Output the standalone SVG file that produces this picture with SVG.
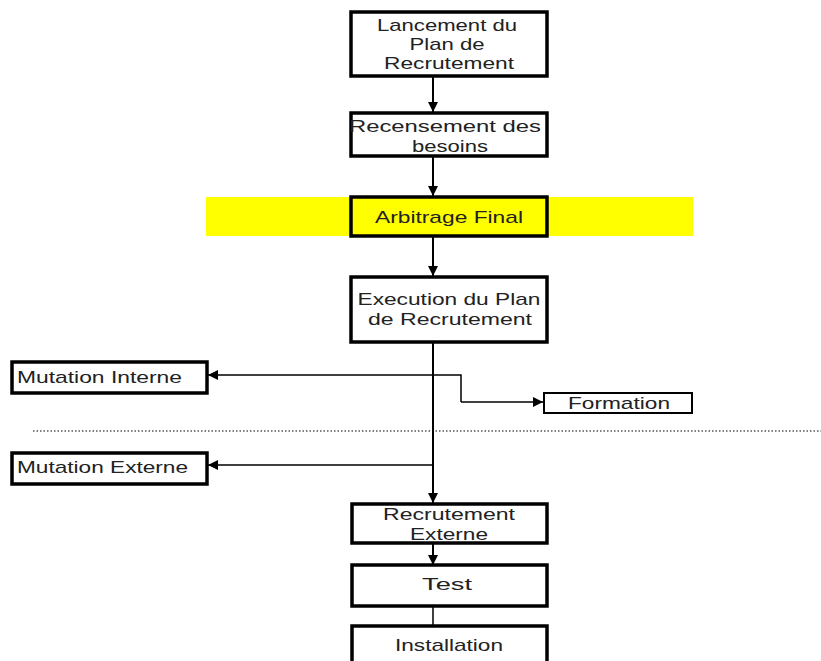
<svg xmlns="http://www.w3.org/2000/svg" width="821" height="661" viewBox="0 0 821 661">
<defs>
<marker id="ah" viewBox="0 0 10 10" refX="10" refY="5" markerWidth="10" markerHeight="10" markerUnits="userSpaceOnUse" orient="auto">
<path d="M0,0 L10,5 L0,10 z" fill="#000"/>
</marker>
</defs>
<style>
.box{fill:#fff;stroke:#000;stroke-width:3.5}
.thin{fill:#fff;stroke:#000;stroke-width:2}
text{font-family:"Liberation Sans",Arial,sans-serif;font-size:17px;fill:#222;text-anchor:middle}
.l{text-anchor:start}
.c{fill:none;stroke:#000;stroke-width:2}
.c1{fill:none;stroke:#000;stroke-width:1.5}
</style>
<rect x="0" y="0" width="821" height="661" fill="#fff"/>
<rect x="206" y="197" width="487" height="39" fill="#ffff00"/>
<line x1="33" y1="431" x2="821" y2="431" stroke="#555" stroke-width="1.5" stroke-dasharray="1.5 2"/>
<g id="connectors">
<line class="c" x1="433" y1="77" x2="433" y2="112" marker-end="url(#ah)"/>
<line class="c" x1="433" y1="157" x2="433" y2="196" marker-end="url(#ah)"/>
<line class="c" x1="433" y1="237" x2="433" y2="276" marker-end="url(#ah)"/>
<line class="c" x1="433" y1="342" x2="433" y2="503" marker-end="url(#ah)"/>
<polyline class="c1" points="461,402 461,375 208,375" marker-end="url(#ah)"/>
<line class="c1" x1="461" y1="402" x2="543" y2="402" marker-end="url(#ah)"/>
<line class="c1" x1="433" y1="465" x2="208" y2="465" marker-end="url(#ah)"/>
<line class="c" x1="433" y1="543" x2="433" y2="565" marker-end="url(#ah)"/>
<line class="c1" x1="433" y1="606" x2="433" y2="626"/>
</g>
<g id="lancement">
<rect class="box" x="351" y="12" width="196" height="64"/>
<text x="447" y="31" textLength="140" lengthAdjust="spacingAndGlyphs">Lancement du</text>
<text x="447" y="50" textLength="75" lengthAdjust="spacingAndGlyphs">Plan de</text>
<text x="449" y="69" textLength="130" lengthAdjust="spacingAndGlyphs">Recrutement</text>
</g>
<g id="recensement">
<rect class="box" x="351" y="113" width="196" height="43"/>
<text x="445" y="132" textLength="192" lengthAdjust="spacingAndGlyphs">Recensement des</text>
<text x="450" y="152" textLength="76" lengthAdjust="spacingAndGlyphs">besoins</text>
</g>
<g id="arbitrage">
<rect class="box" x="351" y="197" width="196" height="39" style="fill:#ffff00"/>
<text x="449" y="223" textLength="148" lengthAdjust="spacingAndGlyphs">Arbitrage Final</text>
</g>
<g id="execution">
<rect class="box" x="351" y="277" width="196" height="65"/>
<text x="449" y="305" textLength="183" lengthAdjust="spacingAndGlyphs">Execution du Plan</text>
<text x="450" y="325" textLength="164" lengthAdjust="spacingAndGlyphs">de Recrutement</text>
</g>
<g id="mutation-interne">
<rect class="box" x="12" y="362" width="195" height="31"/>
<text class="l" x="17" y="383" textLength="165" lengthAdjust="spacingAndGlyphs">Mutation Interne</text>
</g>
<g id="formation">
<rect class="thin" x="544" y="393" width="148" height="20"/>
<text x="619" y="409" textLength="102" lengthAdjust="spacingAndGlyphs">Formation</text>
</g>
<g id="mutation-externe">
<rect class="box" x="12" y="453" width="195" height="31"/>
<text class="l" x="17" y="473" textLength="171" lengthAdjust="spacingAndGlyphs">Mutation Externe</text>
</g>
<g id="recrutement-externe">
<rect class="box" x="352" y="504" width="195" height="39"/>
<text x="449" y="520" textLength="132" lengthAdjust="spacingAndGlyphs">Recrutement</text>
<text x="449" y="540" textLength="78" lengthAdjust="spacingAndGlyphs">Externe</text>
</g>
<g id="test">
<rect class="box" x="352" y="565" width="195" height="41"/>
<text x="447" y="590" textLength="50" lengthAdjust="spacingAndGlyphs">Test</text>
</g>
<g id="installation">
<rect class="box" x="352" y="626" width="195" height="45"/>
<text x="449" y="651" textLength="108" lengthAdjust="spacingAndGlyphs">Installation</text>
</g>
</svg>
